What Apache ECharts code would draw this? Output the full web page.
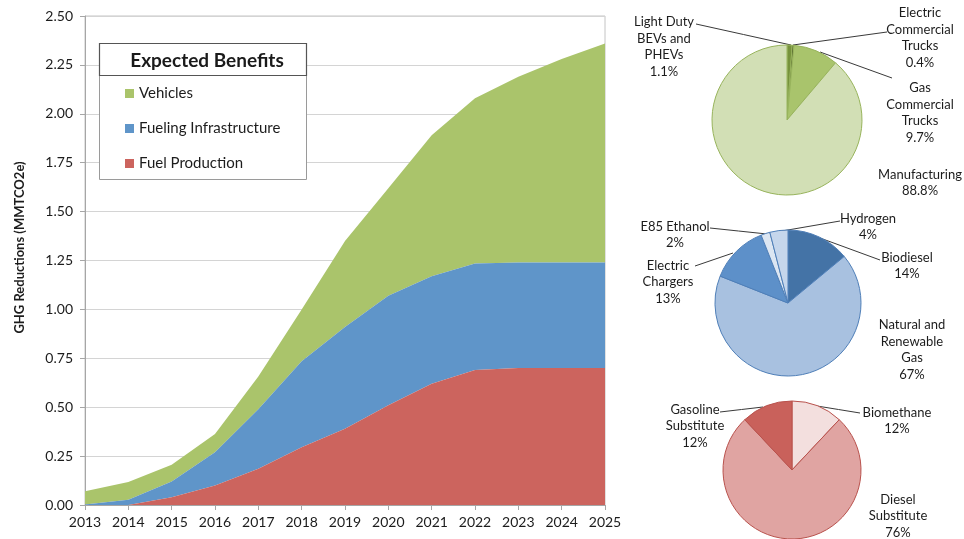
<!DOCTYPE html>
<html>
<head>
<meta charset="utf-8">
<script src="https://cdn.jsdelivr.net/npm/echarts@6/dist/echarts.min.js"></script>
<style>
html,body{margin:0;padding:0;background:#fff;}
#c{width:964px;height:539px;}
</style>
</head>
<body>
<div id="c"></div>
<script>
// ---- data ----
const years = ['2013','2014','2015','2016','2017','2018','2019','2020','2021','2022','2023','2024','2025'];
const fuelProduction = [0, 0, 0.04, 0.10, 0.185, 0.295, 0.39, 0.51, 0.62, 0.69, 0.70, 0.70, 0.70];
const fuelingInfrastructure = [0.003, 0.027, 0.08, 0.17, 0.305, 0.44, 0.52, 0.56, 0.55, 0.545, 0.54, 0.54, 0.54];
const vehicles = [0.067, 0.091, 0.086, 0.093, 0.167, 0.265, 0.44, 0.55, 0.72, 0.845, 0.95, 1.04, 1.12];
const yTicks = ['0.00','0.25','0.50','0.75','1.00','1.25','1.50','1.75','2.00','2.25','2.50'];

const vehicleNames = ['Light Duty BEVs and PHEVs','Electric Commercial Trucks','Gas Commercial Trucks','Manufacturing'];
const vehicleLabels = ['Light Duty\nBEVs and\nPHEVs','Electric\nCommercial\nTrucks','Gas\nCommercial\nTrucks','Manufacturing'];
const vehicleShares = ['1.1','0.4','9.7','88.8'];

const infraNames = ['Biodiesel','Natural and Renewable Gas','Electric Chargers','E85 Ethanol','Hydrogen'];
const infraLabels = ['Biodiesel','Natural and\nRenewable\nGas','Electric\nChargers','E85 Ethanol','Hydrogen'];
const infraShares = ['14','67','13','2','4'];

const fuelNames = ['Biomethane','Diesel Substitute','Gasoline Substitute'];
const fuelLabels = ['Biomethane','Diesel\nSubstitute','Gasoline\nSubstitute'];
const fuelShares = ['12','76','12'];

// ---- styling / layout ----
const FONT = 'Lato, "Open Sans", sans-serif';
const TXT = '#1c1c1c';
const areaColors = {veh:'#aac46b', inf:'#5f95c9', fuel:'#cc645e'};
const vehicleColors = ['#76923c','#4f6228','#a9c46c','#d2dfb5'];
const infraColors = ['#4473a6','#a8c1e0','#5d90c9','#dce6f2','#c5d6ec'];
const fuelColors = ['#f3dfde','#e0a4a2','#c9615b'];

// label layout: centre x, centre y, leader line (slice end -> label end) or null
const vehicleLabelPos = [
  [664, 47, [[791,45],[696,24]]],
  [920, 38, [[793,45],[887,32]]],
  [920, 113, [[820,52],[892,78]]],
  [920, 183, null]
];
const infraLabelPos = [
  [907, 266, [[820,238],[880,260]]],
  [912, 350, null],
  [668, 282, [[733,253],[695,266]]],
  [675, 235, [[767,234],[710,228]]],
  [868, 227, [[782,231],[840,221]]]
];
const fuelLabelPos = [
  [897, 421, [[817,406],[860,413]]],
  [898, 516, null],
  [695, 426, [[763,407],[720,412]]]
];

function pieData(names, labels, shares, colors, pos){
  return names.map((n,i)=>({
    name: n,
    value: parseFloat(shares[i]),
    labelText: labels[i],
    shareText: shares[i],
    itemStyle: {color: colors[i]},
    labelLine: {show: !!pos[i][2]}
  }));
}

function pieSeries(names, labels, shares, colors, pos, center, radius, border){
  return {
    type: 'pie',
    center: center,
    radius: radius,
    startAngle: 90,
    clockwise: true,
    avoidLabelOverlap: false,
    animation: false,
    itemStyle: {borderColor: border, borderWidth: 1},
    emphasis: {disabled: true},
    label: {
      show: true,
      position: 'outside',
      fontFamily: FONT,
      fontSize: 13,
      lineHeight: 16.5,
      color: TXT,
      align: 'center',
      formatter: function(p){ return p.data.labelText + '\n' + p.data.shareText + '%'; }
    },
    labelLine: {show: true, length: 8, length2: 8, smooth: false, lineStyle: {color: '#3a3a3a', width: 1}},
    labelLayout: function(params){
      const p = pos[params.dataIndex];
      const o = {x: p[0], y: p[1], align: 'center', verticalAlign: 'middle'};
      if (p[2]) {
        const a = p[2][0], b = p[2][1];
        o.labelLinePoints = [a, [(a[0]+b[0])/2, (a[1]+b[1])/2], b];
      }
      return o;
    },
    data: pieData(names, labels, shares, colors, pos)
  };
}

const chart = echarts.init(document.getElementById('c'), null, {renderer: 'canvas'});
chart.setOption({
  animation: false,
  backgroundColor: '#ffffff',
  textStyle: {fontFamily: FONT},
  grid: {left: 85, right: 359, top: 16, bottom: 34, show: true, borderColor: '#c4c4c4', borderWidth: 1, backgroundColor: 'transparent'},
  title: {
    text: 'Expected Benefits',
    left: 202, top: 46, textAlign: 'center', z: 20,
    textStyle: {fontFamily: FONT, fontSize: 19, fontWeight: 'bold', color: '#1a1a1a'}
  },
  legend: {
    data: ['Vehicles','Fueling Infrastructure','Fuel Production'],
    orient: 'vertical',
    left: 120, top: 81, z: 20,
    itemWidth: 9, itemHeight: 9, itemGap: 20,
    icon: 'rect',
    textStyle: {fontFamily: FONT, fontSize: 15, color: TXT},
    selectedMode: false
  },
  graphic: [
    {type:'rect', z: 5, shape:{x:99.5, y:43.5, width:207, height:136}, style:{fill:'#fff', stroke:'#9a9a9a', lineWidth:1}},
    {type:'rect', z: 6, shape:{x:99.5, y:43.5, width:207, height:32}, style:{fill:'#fff', stroke:'#555', lineWidth:1.2}}
  ],
  xAxis: {
    type: 'category',
    data: years,
    boundaryGap: false,
    axisLine: {lineStyle: {color: '#a6a6a6'}},
    axisTick: {show: true, length: 5, lineStyle: {color: '#a6a6a6'}},
    axisLabel: {fontFamily: FONT, fontSize: 14, color: TXT, margin: 10}
  },
  yAxis: {
    type: 'value',
    min: 0, max: 2.5, interval: 0.25,
    name: 'GHG Reductions (MMTCO2e)',
    nameLocation: 'middle',
    nameGap: 59,
    nameTextStyle: {fontFamily: FONT, fontSize: 13, fontWeight: 'bold', color: TXT, padding: [0,0,0,26]},
    axisLine: {show: true, lineStyle: {color: '#a6a6a6'}},
    axisTick: {show: true, length: 5, lineStyle: {color: '#a6a6a6'}},
    splitLine: {lineStyle: {color: '#d4d4d4'}},
    axisLabel: {fontFamily: FONT, fontSize: 14, color: TXT, margin: 12,
      formatter: function(v){ const i = Math.round(v/0.25); return yTicks[i]; }}
  },
  series: [
    {name:'Fuel Production', type:'line', stack:'g', data: fuelProduction, symbol:'none',
     lineStyle:{width:0}, areaStyle:{color: areaColors.fuel, opacity:1}, itemStyle:{color: areaColors.fuel}, z: 3},
    {name:'Fueling Infrastructure', type:'line', stack:'g', data: fuelingInfrastructure, symbol:'none',
     lineStyle:{width:0}, areaStyle:{color: areaColors.inf, opacity:1}, itemStyle:{color: areaColors.inf}, z: 2},
    {name:'Vehicles', type:'line', stack:'g', data: vehicles, symbol:'none',
     lineStyle:{width:0}, areaStyle:{color: areaColors.veh, opacity:1}, itemStyle:{color: areaColors.veh}, z: 1},
    pieSeries(vehicleNames, vehicleLabels, vehicleShares, vehicleColors, vehicleLabelPos, [787,120], 75, '#98b45c'),
    pieSeries(infraNames, infraLabels, infraShares, infraColors, infraLabelPos, [788,303], 73, '#4f7fb8'),
    pieSeries(fuelNames, fuelLabels, fuelShares, fuelColors, fuelLabelPos, [792,470], 69, '#b9524d')
  ]
});
</script>
</body>
</html>
